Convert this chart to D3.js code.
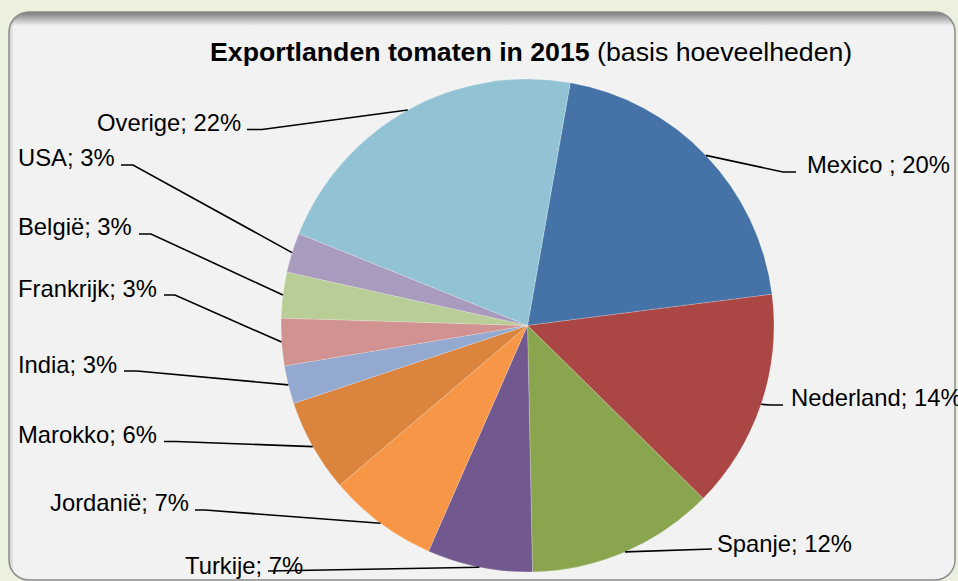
<!DOCTYPE html>
<html><head><meta charset="utf-8">
<script src="https://cdn.jsdelivr.net/npm/d3@7"></script>
<style>html,body{margin:0;padding:0;background:#EBF1DE;}svg{display:block;}</style>
</head><body>
<script>
const categories = ["Mexico ", "Nederland", "Spanje", "Turkije", "Jordanië", "Marokko", "India", "Frankrijk", "België", "USA", "Overige"];
const values = [20.2, 14.4, 12.3, 6.9, 7.2, 6.1, 2.5, 3.1, 3.0, 2.6, 21.7];
const pctLabels = ["20%", "14%", "12%", "7%", "7%", "6%", "3%", "3%", "3%", "3%", "22%"];
const colors = ["#4572A7", "#AA4643", "#89A54E", "#71588F", "#F79646", "#DB843D", "#93A9CF", "#D19392", "#B9CD96", "#A99BBD", "#92C3D4"];

// label layout: text x, baseline y, line y, line end x, bend x
const labelLayout = [
  {tx:807, ty:173, ly:172, ex:796, bx:783},
  {tx:791, ty:406, ly:405, ex:783, bx:770},
  {tx:717, ty:552, ly:549, ex:712, bx:712},
  {tx:185, ty:574, ly:571, ex:268, bx:268},
  {tx:50,  ty:511, ly:510, ex:195, bx:205},
  {tx:18,  ty:443, ly:441.5, ex:164, bx:176},
  {tx:18,  ty:373, ly:371, ex:124, bx:137},
  {tx:18,  ty:297, ly:295, ex:164, bx:175},
  {tx:18,  ty:235, ly:234, ex:139, bx:151},
  {tx:18,  ty:166, ly:165, ex:121, bx:133},
  {tx:97,  ty:131, ly:129.5, ex:247, bx:262}
];

const W = 958, H = 581;
const cx = 527.5, cy = 325.5, R = 246.5;
const startDeg = 10;

const svg = d3.select("body").append("svg").attr("width", W).attr("height", H);
const defs = svg.append("defs");
defs.append("clipPath").attr("id","frameClip").append("rect")
  .attr("x",9).attr("y",12).attr("width",946).attr("height",568).attr("rx",20);
const g1 = defs.append("linearGradient").attr("id","topShade").attr("x1",0).attr("y1",0).attr("x2",0).attr("y2",1);
g1.append("stop").attr("offset","0%").attr("stop-color","#000").attr("stop-opacity",0.5);
g1.append("stop").attr("offset","100%").attr("stop-color","#000").attr("stop-opacity",0);
const g2 = defs.append("linearGradient").attr("id","leftShade").attr("x1",0).attr("y1",0).attr("x2",1).attr("y2",0);
g2.append("stop").attr("offset","0%").attr("stop-color","#000").attr("stop-opacity",0.18);
g2.append("stop").attr("offset","100%").attr("stop-color","#000").attr("stop-opacity",0);

svg.append("rect").attr("x",9).attr("y",12).attr("width",946).attr("height",568).attr("rx",20)
  .attr("fill","#F2F2F2");
const shade = svg.append("g").attr("clip-path","url(#frameClip)");
shade.append("rect").attr("x",9).attr("y",12).attr("width",946).attr("height",14).attr("fill","url(#topShade)");
shade.append("rect").attr("x",9).attr("y",12).attr("width",5).attr("height",568).attr("fill","url(#leftShade)");
svg.append("rect").attr("x",9).attr("y",12).attr("width",946).attr("height",568).attr("rx",20)
  .attr("fill","none").attr("stroke","#8C8C8C").attr("stroke-width",1.5);

// title
const title = svg.append("text").attr("x",210).attr("y",61)
  .attr("font-family","Liberation Sans, Arial, sans-serif").attr("font-size",26.7).attr("fill","#000");
title.append("tspan").attr("font-weight","bold").text("Exportlanden tomaten in 2015");
title.append("tspan").text(" (basis hoeveelheden)");

const pie = d3.pie().sort(null).value(d => d)
  .startAngle(startDeg * Math.PI / 180).endAngle(startDeg * Math.PI / 180 + 2 * Math.PI);
const arcs = pie(values);
const arc = d3.arc().innerRadius(0).outerRadius(R);

const pg = svg.append("g").attr("transform", `translate(${cx},${cy})`);
pg.selectAll("path").data(arcs).join("path")
  .attr("d", arc).attr("fill", (d,i) => colors[i])
  .attr("stroke", "#ffffff").attr("stroke-opacity", 0.35).attr("stroke-width", 0.6);

// leader lines
const lg = svg.append("g");
arcs.forEach((d, i) => {
  const a = (d.startAngle + d.endAngle) / 2;
  const px = cx + R * Math.sin(a), py = cy - R * Math.cos(a);
  const L = labelLayout[i];
  lg.append("path")
    .attr("d", d3.line()([[px, py], [L.bx, L.ly], [L.ex, L.ly]]))
    .attr("fill","none").attr("stroke","#000").attr("stroke-width",1.6);
});

// labels
const tg = svg.append("g").attr("font-family","Liberation Sans, Arial, sans-serif")
  .attr("font-size",23.8).attr("fill","#000");
categories.forEach((c, i) => {
  const L = labelLayout[i];
  tg.append("text").attr("x", L.tx).attr("y", L.ty).text(c + "; " + pctLabels[i]);
});
</script>
</body></html>
